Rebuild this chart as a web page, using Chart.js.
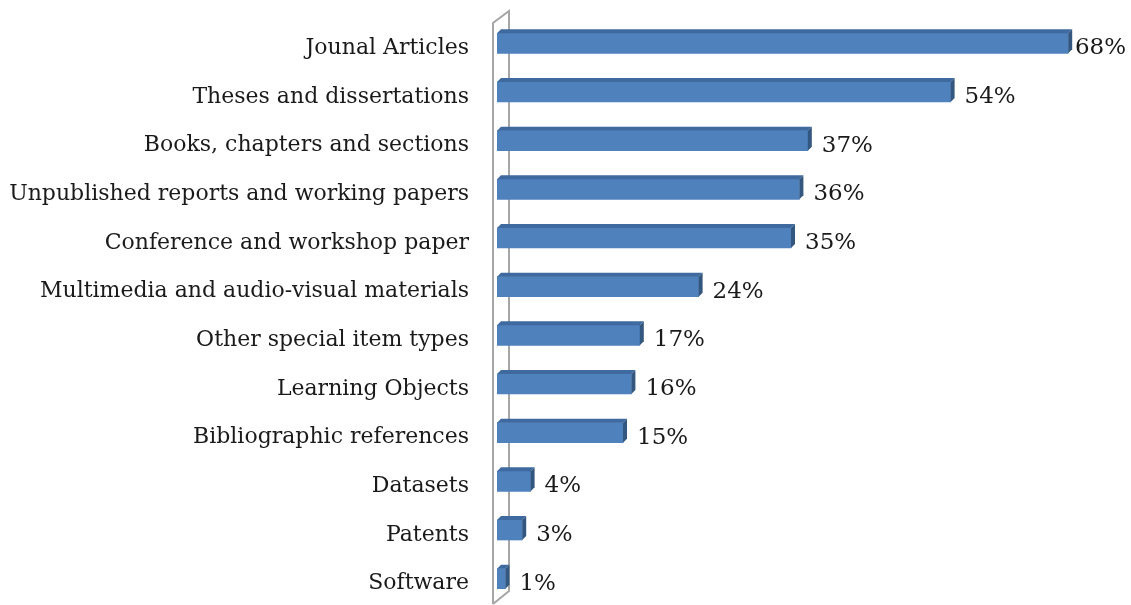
<!DOCTYPE html>
<html>
<head>
<meta charset="utf-8">
<title>Item types</title>
<script src="https://cdn.jsdelivr.net/npm/chart.js@4/dist/chart.umd.min.js"></script>
<style>
  html, body { margin: 0; padding: 0; background: #fff; }
  #wrap { position: relative; width: 1131px; height: 605px; }
</style>
</head>
<body>
<div id="wrap"><canvas id="itemChart"></canvas></div>
<script>
const categories = [
  'Jounal Articles',
  'Theses and dissertations',
  'Books, chapters and sections',
  'Unpublished reports and working papers',
  'Conference and workshop paper',
  'Multimedia and audio-visual materials',
  'Other special item types',
  'Learning Objects',
  'Bibliographic references',
  'Datasets',
  'Patents',
  'Software',
];
const percentValues = [68, 54, 37, 36, 35, 24, 17, 16, 15, 4, 3, 1];
const axisMax = 70;

const FONT = '"DejaVu Serif", "Liberation Serif", serif';
const DEPTH = 4;

// grey side wall behind the bars
const wallPlugin = {
  id: 'wall',
  beforeDatasetsDraw(chart) {
    const a = chart.chartArea;
    const ctx = chart.ctx;
    const x0 = a.left - 4;
    const x1 = a.left + 12;
    ctx.save();
    ctx.strokeStyle = '#a6a6a6';
    ctx.lineWidth = 2;
    ctx.beginPath();
    ctx.moveTo(x0, a.bottom + 1);
    ctx.lineTo(x0, a.top + 4);
    ctx.lineTo(x1, a.top - 8);
    ctx.lineTo(x1, a.bottom - 12);
    ctx.lineTo(x0, a.bottom + 1);
    ctx.stroke();
    ctx.restore();
  },
};

// top and right faces so each bar reads as a block
const blockPlugin = {
  id: 'block',
  afterDatasetsDraw(chart) {
    const ctx = chart.ctx;
    const meta = chart.getDatasetMeta(0);
    ctx.save();
    meta.data.forEach((bar) => {
      const p = bar.getProps(['x', 'y', 'base', 'height'], true);
      const top = p.y - p.height / 2;
      const bottom = p.y + p.height / 2;
      ctx.fillStyle = '#3f6a9f';
      ctx.beginPath();
      ctx.moveTo(p.base, top);
      ctx.lineTo(p.base + DEPTH, top - DEPTH);
      ctx.lineTo(p.x + DEPTH, top - DEPTH);
      ctx.lineTo(p.x, top);
      ctx.closePath();
      ctx.fill();
      ctx.fillStyle = '#34577f';
      ctx.beginPath();
      ctx.moveTo(p.x, top);
      ctx.lineTo(p.x + DEPTH, top - DEPTH);
      ctx.lineTo(p.x + DEPTH, bottom - DEPTH);
      ctx.lineTo(p.x, bottom);
      ctx.closePath();
      ctx.fill();
    });
    ctx.restore();
  },
};

const valueLabelPlugin = {
  id: 'valueLabels',
  afterDatasetsDraw(chart) {
    const ctx = chart.ctx;
    const meta = chart.getDatasetMeta(0);
    ctx.save();
    ctx.font = '23px ' + FONT;
    ctx.fillStyle = '#1a1a1a';
    ctx.textBaseline = 'middle';
    meta.data.forEach((bar, i) => {
      const text = percentValues[i] + '%';
      const w = ctx.measureText(text).width;
      const x = Math.min(bar.x + DEPTH + 10, chart.width - w - 5);
      ctx.fillText(text, x, bar.y + 5);
    });
    ctx.restore();
  },
};

new Chart(document.getElementById('itemChart'), {
  type: 'bar',
  data: {
    labels: categories,
    datasets: [{
      data: percentValues,
      backgroundColor: '#4f81bd',
      borderWidth: 0,
      barThickness: 20,
    }],
  },
  options: {
    indexAxis: 'y',
    responsive: true,
    maintainAspectRatio: false,
    animation: false,
    layout: { padding: { top: 19, bottom: 2, right: 46, left: 0 } },
    plugins: {
      legend: { display: false },
      tooltip: { enabled: false },
    },
    scales: {
      x: {
        min: 0,
        max: axisMax,
        display: false,
      },
      y: {
        grid: { display: false, drawTicks: false },
        border: { display: false },
        ticks: {
          color: '#1a1a1a',
          padding: 28,
          labelOffset: 5,
          font: { family: FONT, size: 22 },
        },
        afterFit(scale) {
          scale.width = 497;
          // tick padding would otherwise push the plot down
          scale.paddingTop = 0;
          scale.paddingBottom = 0;
        },
      },
    },
  },
  plugins: [wallPlugin, blockPlugin, valueLabelPlugin],
});
</script>
</body>
</html>
